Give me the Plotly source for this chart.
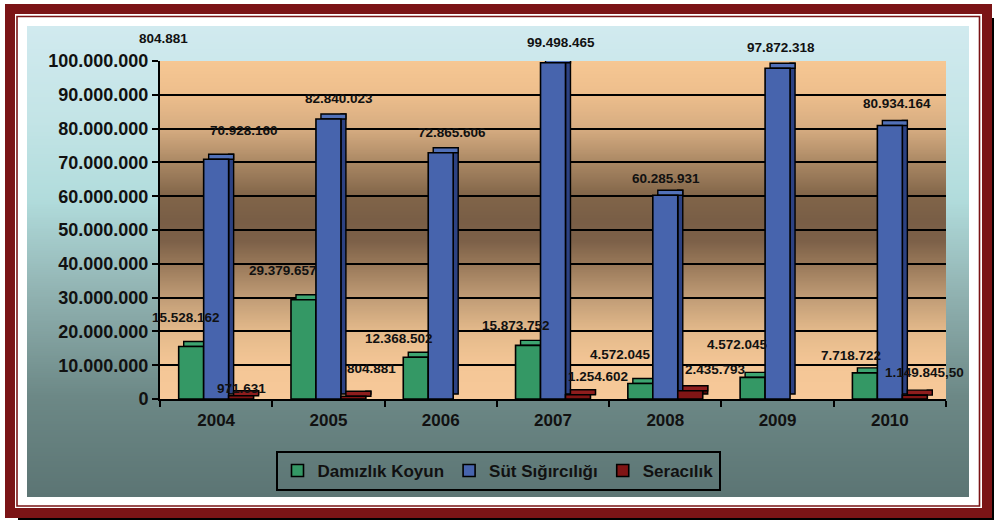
import base64
import struct
import zlib
import plotly.graph_objects as go

# ---------------- data ----------------
years = ["2004", "2005", "2006", "2007", "2008", "2009", "2010"]
series_names = ["Damızlık Koyun", "Süt Sığırcılığı", "Seracılık"]

damizlik_koyun = [15528162, 29379657, 12368502, 15873752, 4572045, 6400000, 7718722]
sut_sigirciligi = [70928160, 82840023, 72865606, 99498465, 60285931, 97872318, 80934164]
seracilik = [971631, 804881, None, 1254602, 2435793, None, 1149845.50]

koyun_labels = ["15.528.162", "29.379.657", "12.368.502", "15.873.752", "4.572.045", "4.572.045", "7.718.722"]
sut_labels = ["70.928.160", "82.840.023", "72.865.606", "99.498.465", "60.285.931", "97.872.318", "80.934.164"]
sera_labels = ["971.631", "804.881", None, "1.254.602", "2.435.793", None, "1.149.845,50"]
stray_label = "804.881"

y_ticks = [0, 10000000, 20000000, 30000000, 40000000, 50000000,
           60000000, 70000000, 80000000, 90000000, 100000000]

# ---------------- style / geometry ----------------
W, H = 994, 520
PL, PR, PT, PB = 160, 946, 61, 399
Y_MAX = 100000000
BARGAP = 0.333
DEPTH_PX = 5
FRONT = ["#349865", "#4764AD", "#801515"]
TOPC = ["#3DA571", "#5271B8", "#8E1D1D"]
SIDE = ["#226B46", "#2D4283", "#560B0B"]
FRAME = "#7B1416"
FONT = "Liberation Sans, Arial, sans-serif"

# label nudges (pixels, relative to top-centre of each bar)
koyun_dx = [-5, -20, -17, -12, -20, -15, -14]
koyun_dy = [-29, -29, -19, -20, -29, -33, -17]
sut_dx = [28, 11, 11, 8, 1, 3, 7]
sut_dy = [-29, -21, -20, -20, -17, -21, -22]
sera_dx = [0, 18, 0, 20, 25, 0, 10]
sera_dy = [-7, -28, 0, -18, -21, 0, -23]


def fx(px):
    return (px - PL) / (PR - PL)


def fy(py):
    return (PB - py) / (PB - PT)


def hex_rgb(h):
    h = h.lstrip("#")
    return tuple(int(h[i:i + 2], 16) for i in (0, 2, 4))


def gradient_png(stops, n=256):
    rows = []
    for k in range(n):
        t = k / (n - 1)
        for j in range(len(stops) - 1):
            t0, c0 = stops[j]
            t1, c1 = stops[j + 1]
            if t0 <= t <= t1:
                f = 0 if t1 == t0 else (t - t0) / (t1 - t0)
                a, b = hex_rgb(c0), hex_rgb(c1)
                rgb = [int(round(a[i] + (b[i] - a[i]) * f)) for i in range(3)]
                break
        rows.append(b"\x00" + bytes(rgb * 2))
    raw = b"".join(rows)

    def chunk(tag, data):
        return (struct.pack(">I", len(data)) + tag + data
                + struct.pack(">I", zlib.crc32(tag + data) & 0xFFFFFFFF))

    ihdr = struct.pack(">IIBBBBB", 2, n, 8, 2, 0, 0, 0)
    png = (b"\x89PNG\r\n\x1a\n" + chunk(b"IHDR", ihdr)
           + chunk(b"IDAT", zlib.compress(raw, 9)) + chunk(b"IEND", b""))
    return "data:image/png;base64," + base64.b64encode(png).decode()


wall_grad = gradient_png([
    (0.00, "#F6C793"), (0.10, "#EDBE8C"), (0.20, "#D6AC81"), (0.30, "#AA8864"),
    (0.40, "#816549"), (0.47, "#795E46"), (0.53, "#7C6048"), (0.60, "#987859"),
    (0.70, "#C09C76"), (0.80, "#E4BA8B"), (0.90, "#F4C696"), (1.00, "#F7C999"),
])
paper_grad = gradient_png([
    (0.00, "#D1EAEF"), (0.20, "#C3E4E6"), (0.37, "#B1DCDC"), (0.58, "#8FB0AF"),
    (0.79, "#6C8886"), (1.00, "#5C7574"),
])

slot = (PR - PL) / len(years)
bar_u = (1 - BARGAP) / 3              # bar width in category units
bar_px = slot * bar_u
dx_u = DEPTH_PX / slot                # depth in category units
dy_u = DEPTH_PX / (PB - PT) * Y_MAX   # depth in value units
offsets = [-1.5 * bar_u, -0.5 * bar_u, 0.5 * bar_u]
all_series = [damizlik_koyun, sut_sigirciligi, seracilik]
edge = dict(color="#000000", width=1.4)

fig = go.Figure()
# 3-D depth faces (drawn first so the front faces cover them)
for k, vals in enumerate(all_series):
    fig.add_trace(go.Bar(
        x=years, y=vals, base=dy_u, offset=offsets[k] + bar_u, width=dx_u,
        marker=dict(color=SIDE[k], line=edge), showlegend=False, hoverinfo="skip",
        cliponaxis=False,
    ))
    fig.add_trace(go.Bar(
        x=years, y=[None if v is None else dy_u for v in vals], base=vals,
        offset=offsets[k] + dx_u, width=bar_u,
        marker=dict(color=TOPC[k], line=edge), showlegend=False, hoverinfo="skip",
        cliponaxis=False,
    ))
# front faces
for k, vals in enumerate(all_series):
    fig.add_trace(go.Bar(
        x=years, y=vals, name=series_names[k], offset=offsets[k], width=bar_u,
        marker=dict(color=FRONT[k], line=dict(color="#000000", width=1.6)),
        cliponaxis=False,
    ))

# empty helper trace so that the grid-only axis (y2) is created
fig.add_trace(go.Scatter(x=[None], y=[None], yaxis="y2", showlegend=False,
                         hoverinfo="skip", mode="markers"))

annotations = []
label_sets = [
    (damizlik_koyun, koyun_labels, koyun_dx, koyun_dy, -1),
    (sut_sigirciligi, sut_labels, sut_dx, sut_dy, 0),
    (seracilik, sera_labels, sera_dx, sera_dy, 1),
]
for vals, labels, dxs, dys, off in label_sets:
    for i, (v, lab, dx, dy) in enumerate(zip(vals, labels, dxs, dys)):
        if v is None or lab is None:
            continue
        annotations.append(dict(
            x=i, y=v, xref="x", yref="y", text=lab, showarrow=False,
            xanchor="center", yanchor="middle",
            xshift=off * bar_px + dx, yshift=-dy,
            font=dict(family=FONT, size=13.5, color="#111111", weight="bold"),
        ))
annotations.append(dict(
    x=fx(163), y=fy(38), xref="paper", yref="paper", text=stray_label,
    showarrow=False, xanchor="center", yanchor="middle",
    font=dict(family=FONT, size=13.5, color="#111111", weight="bold"),
))

shapes = [
    dict(type="rect", xref="paper", yref="paper", x0=fx(991), x1=fx(994), y0=fy(18), y1=fy(520),
         fillcolor="#000000", line=dict(width=0), layer="below"),
    dict(type="rect", xref="paper", yref="paper", x0=fx(18), x1=fx(994), y0=fy(517), y1=fy(520),
         fillcolor="#000000", line=dict(width=0), layer="below"),
    dict(type="rect", xref="paper", yref="paper", x0=fx(10), x1=fx(987), y0=fy(9), y1=fy(513),
         fillcolor="rgba(0,0,0,0)", line=dict(color=FRAME, width=10), layer="below"),
    dict(type="rect", xref="paper", yref="paper", x0=fx(17), x1=fx(979.5), y0=fy(16.5), y1=fy(506),
         fillcolor="rgba(0,0,0,0)", line=dict(color=FRAME, width=1.6), layer="below"),
]

images = [
    dict(source=paper_grad, xref="paper", yref="paper", x=fx(27), y=fy(26),
         sizex=(969 - 27) / (PR - PL), sizey=(497 - 26) / (PB - PT),
         xanchor="left", yanchor="top", sizing="stretch", layer="below"),
    dict(source=wall_grad, xref="x domain", yref="y domain", x=0, y=1, sizex=1, sizey=1,
         xanchor="left", yanchor="top", sizing="stretch", layer="below"),
]

fig.update_layout(
    width=W, height=H,
    margin=dict(l=PL, r=W - PR, t=PT, b=H - PB, pad=0),
    paper_bgcolor="#FFFFFF",
    plot_bgcolor="rgba(0,0,0,0)",
    separators=",.",
    barmode="overlay",
    font=dict(family=FONT, color="#111111"),
    xaxis=dict(
        type="category", categoryorder="array", categoryarray=years,
        range=[-0.5, len(years) - 0.5],
        showgrid=False, showline=True, linecolor="#000000", linewidth=2,
        ticks="outside", tickson="boundaries", ticklen=6, tickwidth=2, tickcolor="#000000",
        tickfont=dict(family=FONT, size=17, color="#111111", weight="bold"),
        ticklabelstandoff=5, tickangle=0, zeroline=False, automargin=False,
    ),
    yaxis=dict(
        range=[0, Y_MAX], tickvals=y_ticks, tickformat=",d",
        showgrid=False, showline=True, linecolor="#000000", linewidth=2,
        ticks="outside", ticklen=6, tickwidth=2, tickcolor="#000000",
        tickfont=dict(family=FONT, size=18, color="#111111", weight="bold"),
        zeroline=False, automargin=False,
    ),
    yaxis2=dict(
        overlaying="y", anchor="x", side="left", range=[0, Y_MAX], tickvals=y_ticks[1:-1],
        showticklabels=False, showgrid=True, gridcolor="#000000", gridwidth=2,
        ticks="", showline=False, zeroline=False, automargin=False,
    ),
    legend=dict(
        orientation="h", x=fx(498), xanchor="center", y=fy(471), yanchor="middle",
        bgcolor="rgba(0,0,0,0)", bordercolor="#000000", borderwidth=2,
        font=dict(family=FONT, size=17, color="#111111", weight="bold"),
        traceorder="normal",
    ),
    annotations=annotations,
    shapes=shapes,
    images=images,
)

fig.write_html("out.html", config={"displayModeBar": False},
               post_script="document.body.style.margin='0';")
